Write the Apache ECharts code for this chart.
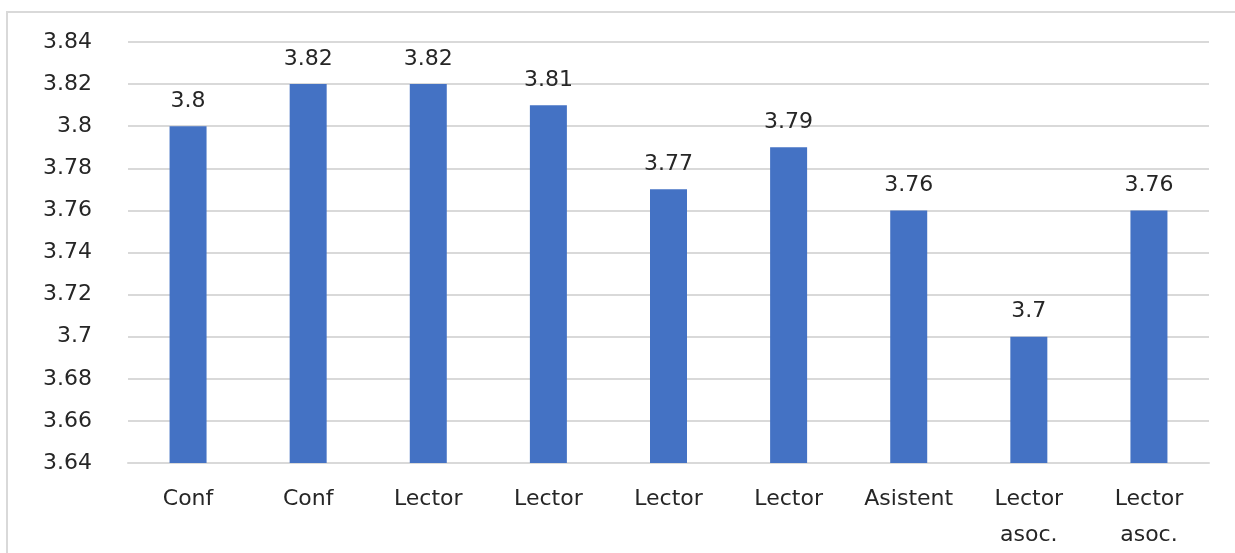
<!DOCTYPE html>
<html>
<head>
<meta charset="utf-8">
<script src="https://cdn.jsdelivr.net/npm/echarts@6/dist/echarts.min.js"></script>
<style>
html,body{margin:0;padding:0;background:#fff;overflow:hidden;}
#chart{width:1235px;height:553px;}
</style>
</head>
<body>
<div id="chart"></div>
<script>
const categories = ['Conf', 'Conf', 'Lector', 'Lector', 'Lector', 'Lector', 'Asistent', 'Lector asoc.', 'Lector asoc.'];
const values = [3.8, 3.82, 3.82, 3.81, 3.77, 3.79, 3.76, 3.7, 3.76];
const yTicks = [3.64, 3.66, 3.68, 3.7, 3.72, 3.74, 3.76, 3.78, 3.8, 3.82, 3.84];

const FONT = 'DejaVu Sans';
const chart = echarts.init(document.getElementById('chart'), null, {renderer: 'canvas'});
chart.setOption({
  animation: false,
  backgroundColor: '#ffffff',
  graphic: [{
    type: 'rect',
    shape: {x: 7, y: 12, width: 1260, height: 580},
    style: {fill: 'none', stroke: '#d9d9d9', lineWidth: 2},
    silent: true
  }],
  grid: {left: 128, right: 26, top: 42, bottom: 80, containLabel: false},
  xAxis: {
    type: 'category',
    data: categories,
    axisLine: {show: true, lineStyle: {color: '#d9d9d9', width: 2}},
    axisTick: {show: false},
    axisLabel: {
      interval: 0,
      color: '#262626',
      fontFamily: FONT,
      fontSize: 22,
      margin: 18,
      lineHeight: 36,
      formatter: v => v.replace(' ', '\n')
    }
  },
  yAxis: {
    type: 'value',
    min: yTicks[0],
    max: yTicks[yTicks.length - 1],
    interval: 0.02,
    axisLine: {show: false},
    axisTick: {show: false},
    splitLine: {lineStyle: {color: '#d9d9d9', width: 2}},
    axisLabel: {
      color: '#262626',
      fontFamily: FONT,
      fontSize: 22,
      margin: 36,
      formatter: v => String(parseFloat(v.toFixed(2)))
    }
  },
  series: [{
    type: 'bar',
    data: values,
    barWidth: 37,
    itemStyle: {color: '#4472C4'},
    label: {
      show: true,
      position: 'top',
      distance: 14,
      color: '#262626',
      fontFamily: FONT,
      fontSize: 22,
      formatter: p => String(p.value)
    }
  }]
});
</script>
</body>
</html>
